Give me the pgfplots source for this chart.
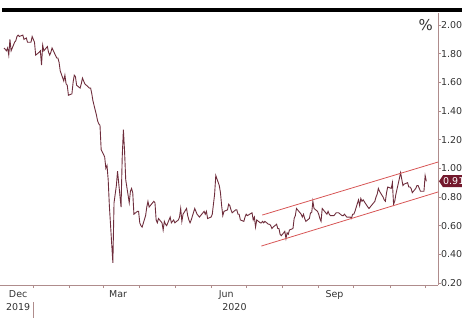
\documentclass[border=0pt]{standalone}
\usepackage{fontspec}
\setmainfont{DejaVu Sans}
\usepackage{pgfplots}
\pgfplotsset{compat=1.18}
\definecolor{ser}{RGB}{110,45,60}
\definecolor{chan}{RGB}{215,85,85}
\definecolor{axl}{RGB}{175,140,140}
\definecolor{lab}{RGB}{50,50,50}
\definecolor{tagc}{RGB}{115,25,45}
\pgfplotstableread{
d v
6 1.84
8 1.82
9 1.84
10 1.79
11 1.90
12 1.82
15 1.88
16 1.89
17 1.92
18 1.93
19 1.92
22 1.93
23 1.90
25 1.91
26 1.88
29 1.88
30 1.92
32 1.88
33 1.79
36 1.81
37 1.82
38 1.72
39 1.86
40 1.82
43 1.85
44 1.81
45 1.79
46 1.81
47 1.84
51 1.77
52 1.77
53 1.74
54 1.68
57 1.61
58 1.65
59 1.59
60 1.58
61 1.51
64 1.52
65 1.60
66 1.65
67 1.64
68 1.58
71 1.56
72 1.59
73 1.63
74 1.61
75 1.59
79 1.56
80 1.56
81 1.52
82 1.47
85 1.37
86 1.33
87 1.31
88 1.30
89 1.13
92 1.08
93 1.00
94 1.02
95 0.92
96 0.74
99 0.34
100 0.76
101 0.82
102 0.88
103 0.98
106 0.73
107 1.08
108 1.27
109 1.12
110 0.92
113 0.76
114 0.84
115 0.86
116 0.83
117 0.68
120 0.70
121 0.70
122 0.62
123 0.60
124 0.59
127 0.67
128 0.73
129 0.77
130 0.73
134 0.77
135 0.76
136 0.64
137 0.62
138 0.65
141 0.62
142 0.57
143 0.63
144 0.61
145 0.60
148 0.66
149 0.62
150 0.63
151 0.64
152 0.62
155 0.64
156 0.66
157 0.72
158 0.63
159 0.68
162 0.72
163 0.67
164 0.64
165 0.62
166 0.64
169 0.72
170 0.70
171 0.68
172 0.67
173 0.66
177 0.70
178 0.68
179 0.70
180 0.65
183 0.66
184 0.68
185 0.75
186 0.82
187 0.95
190 0.88
191 0.83
192 0.74
193 0.67
194 0.70
197 0.71
198 0.75
199 0.74
200 0.71
201 0.69
204 0.71
205 0.71
206 0.68
207 0.68
208 0.64
211 0.63
212 0.66
213 0.68
214 0.67
218 0.69
219 0.64
220 0.66
221 0.59
222 0.64
225 0.62
226 0.62
227 0.63
228 0.62
229 0.63
232 0.61
233 0.61
234 0.60
235 0.58
236 0.59
239 0.61
240 0.58
241 0.58
242 0.54
243 0.53
246 0.56
247 0.51
248 0.55
249 0.54
250 0.57
253 0.58
254 0.65
255 0.67
256 0.72
257 0.71
260 0.68
261 0.66
262 0.68
263 0.65
264 0.63
267 0.65
268 0.69
269 0.69
270 0.77
271 0.72
274 0.70
275 0.68
276 0.65
277 0.63
278 0.72
282 0.68
283 0.70
284 0.68
285 0.67
288 0.67
289 0.68
290 0.69
291 0.69
292 0.69
295 0.67
296 0.67
297 0.68
298 0.67
299 0.66
302 0.66
303 0.65
304 0.68
305 0.68
306 0.70
309 0.78
310 0.74
311 0.79
312 0.77
313 0.78
317 0.73
318 0.72
319 0.73
320 0.74
323 0.77
324 0.80
325 0.82
326 0.86
327 0.84
330 0.80
331 0.78
332 0.77
333 0.83
334 0.87
337 0.86
338 0.90
339 0.75
340 0.77
341 0.82
344 0.93
345 0.97
347 0.88
348 0.89
351 0.90
352 0.87
353 0.87
354 0.86
355 0.83
358 0.86
359 0.88
360 0.88
362 0.84
365 0.84
366 0.95
367 0.91
}\yielddata
\begin{document}
\begin{tikzpicture}
\begin{axis}[name=ax, scale only axis, width=438bp, height=272bp,
  xmin=2.5, xmax=377, ymin=0.186, ymax=2.084,
  axis x line*=bottom, axis y line*=right,
  axis line style={draw=axl, line width=0.6pt},
  clip=false,
  font=\fontsize{9.5}{10}\selectfont,
  tick label style={text=lab},
  ytick={0.2,0.4,0.6,0.8,1.0,1.2,1.4,1.6,1.8,2.0},
  yticklabel style={/pgf/number format/fixed, /pgf/number format/fixed zerofill, /pgf/number format/precision=2, /pgf/number format/assume math mode=true, anchor=west, xshift=-3.5bp},
  tick align=outside, major tick length=3bp, minor tick length=3bp,
  every tick/.style={draw=axl, line width=0.6pt},
  xtick={18,103.5,196,288.5}, xticklabels={Dec,Mar,Jun,Sep},
  major x tick style={draw=none},
  minor xtick={31,62,91,122,152,183,213,244,275,305,336,366},
  xticklabel style={yshift=1bp},
]
\addplot[ser, line width=0.9pt] table[x=d, y=v] {\yielddata};
\addplot[chan, line width=0.8pt] coordinates {(226.7,0.674) (377,1.044)};
\addplot[chan, line width=0.8pt] coordinates {(226,0.458) (377,0.835)};
\coordinate (y19) at (axis cs:18,0.186);
\coordinate (y20) at (axis cs:203,0.186);
\coordinate (ys) at (axis cs:31,0.186);
\coordinate (t) at (axis cs:377,0.91);
\coordinate (p) at (axis cs:377,2.0);
\end{axis}
\node[anchor=north, text=lab, font=\fontsize{9.5}{10}\selectfont] at ([yshift=-15bp]y19) {2019};
\node[anchor=north, text=lab, font=\fontsize{9.5}{10}\selectfont] at ([yshift=-15bp]y20) {2020};
\draw[draw=axl, line width=0.6pt] ([yshift=-17bp]ys) -- ([yshift=-35bp]ys);
\fill[black] ([xshift=2bp,yshift=1bp]ax.north west) rectangle ([xshift=480bp,yshift=4.5bp]ax.north west);
\fill[tagc] ([xshift=1bp]t) -- ++(4bp,6bp) -- ++(40bp,0) -- ++(0,-12bp) -- ++(-40bp,0) -- cycle;
\node[anchor=west, text=white, inner sep=0pt, font=\fontsize{9.5}{10}\selectfont] at ([xshift=5bp]t) {0.91};
\node[anchor=east, text=lab, inner sep=0pt, font=\fontsize{15}{15}\selectfont] at ([xshift=-5bp]p) {\%};
\pgfresetboundingbox
\path[use as bounding box] ([yshift=-33bp]ax.south west) rectangle ([xshift=462bp,yshift=13bp]ax.north west);
\end{tikzpicture}
\end{document}
